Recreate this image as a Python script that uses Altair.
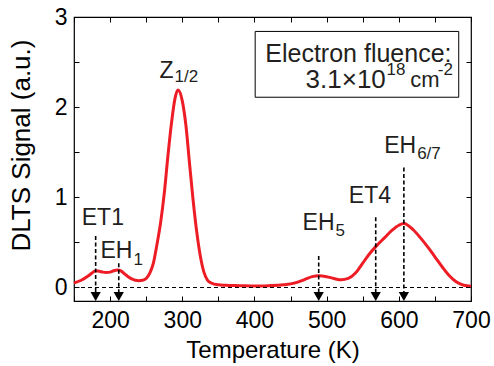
import altair as alt
import pandas as pd

FONT = "Liberation Sans"

# ---- DLTS spectrum ----
temps = [150, 160, 170, 175, 180, 185, 190, 195, 200, 205, 210, 215, 220, 225, 230,
         235, 240, 245, 250, 255, 260, 265, 270, 275, 280, 285, 290, 294, 300, 305,
         310, 315, 320, 325, 330, 335, 340, 350, 360, 380, 400, 420, 440, 450, 460,
         470, 480, 489, 500, 510, 520, 530, 540, 550, 560, 570, 580, 590, 600, 607,
         620, 630, 640, 650, 660, 670, 680, 690, 700]
signal = [0.05, 0.08, 0.13, 0.16, 0.185, 0.18, 0.17, 0.165, 0.17, 0.185, 0.195, 0.185, 0.15, 0.12, 0.095,
          0.08, 0.075, 0.08, 0.10, 0.16, 0.27, 0.48, 0.72, 1.04, 1.45, 1.82, 2.10, 2.19, 2.07, 1.80,
          1.38, 0.97, 0.62, 0.35, 0.17, 0.08, 0.05, 0.03, 0.025, 0.02, 0.015, 0.02, 0.03, 0.04, 0.06,
          0.09, 0.12, 0.13, 0.12, 0.10, 0.085, 0.10, 0.16, 0.27, 0.38, 0.47, 0.55, 0.63, 0.69, 0.71,
          0.64, 0.55, 0.45, 0.34, 0.23, 0.13, 0.06, 0.025, 0.015]

# ---- trap markers (dashed arrows) ----
marker_T = [180, 212, 489, 568, 607]
marker_top = [0.57, 0.27, 0.35, 0.78, 1.33]
arrow_bottom = -0.05
arrow_y = -0.10

# ---- peak labels ----
plain_text = ["ET1", "ET4"]
plain_T = [190, 560]
plain_y = [0.77, 1.02]

main_text = ["EH", "Z", "EH", "EH"]
main_T = [231, 288, 511, 624]
main_y = [0.40, 2.40, 0.71, 1.57]
sub_text = ["1", "1/2", "5", "6/7"]
sub_y = [0.305, 2.34, 0.63, 1.48]

# ---- fluence box ----
box_T = [401, 683]
box_y = [2.11, 2.84]
line1_text = "Electron fluence:"
line1_T, line1_y = 415, 2.59
line2_parts = ["3.1\u00d710", "18", "cm", "-2"]
line2_T = [582, 583, 616, 654]
line2_y = [2.30, 2.415, 2.30, 2.415]

x_scale = alt.Scale(domain=[150, 700], nice=False, zero=False)
y_scale = alt.Scale(domain=[-0.15, 3], nice=False, zero=False)

x_ticks = list(range(150, 701, 50))
y_ticks = [0, 0.5, 1, 1.5, 2, 2.5, 3]

axis_common = dict(tickSize=5, offset=-5, domain=False, grid=False, tickColor="black",
                   tickWidth=1, labelColor="black", titleColor="black",
                   labelFont=FONT, titleFont=FONT, titleFontWeight="normal",
                   labelOverlap=False, labelFlush=False)

x_bottom = alt.Axis(values=x_ticks, orient="bottom",
                    labelExpr="datum.value % 100 == 0 ? format(datum.value, 'd') : ''",
                    labelFontSize=23, titleFontSize=24, labelPadding=8, titlePadding=6,
                    title="Temperature (K)", **axis_common)
y_left = alt.Axis(values=y_ticks, orient="left",
                  labelExpr="datum.value % 1 == 0 ? format(datum.value, 'd') : ''",
                  labelFontSize=23, titleFontSize=26, labelPadding=7,
                  title="DLTS Signal (a.u.)", titleX=-45, titleY=128, **axis_common)
x_top = alt.Axis(values=x_ticks, orient="top", labels=False, title="", **axis_common)
y_right = alt.Axis(values=y_ticks, orient="right", labels=False, title="", **axis_common)


def X(field):
    return alt.X(field, type="quantitative", scale=x_scale, axis=None)


def Y(field):
    return alt.Y(field, type="quantitative", scale=y_scale, axis=None)


curve_df = pd.DataFrame({"T": temps, "S": signal})
curve = alt.Chart(curve_df).mark_line(color="#ee1c25", strokeWidth=3, interpolate="monotone").encode(
    x=alt.X("T:Q", scale=x_scale, axis=x_bottom),
    y=alt.Y("S:Q", scale=y_scale, axis=y_left),
)

zero_df = pd.DataFrame({"T": [150, 700], "S": [0, 0]})
zero_line = alt.Chart(zero_df).mark_line(color="black", strokeWidth=1.2, strokeDash=[4, 3]).encode(
    x=alt.X("T:Q", scale=x_scale, axis=x_top),
    y=alt.Y("S:Q", scale=y_scale, axis=y_right),
)

mk_df = pd.DataFrame({"T": marker_T, "top": marker_top,
                      "bot": [arrow_bottom] * len(marker_T), "ay": [arrow_y] * len(marker_T)})
vlines = alt.Chart(mk_df).mark_rule(color="black", strokeWidth=1.6, strokeDash=[4, 2.5]).encode(
    x=X("T"), y=Y("top"), y2="bot:Q")
arrows = alt.Chart(mk_df).mark_point(shape="triangle-down", filled=True, size=105,
                                     color="black", opacity=1).encode(x=X("T"), y=Y("ay"))

plain_df = pd.DataFrame({"T": plain_T, "y": plain_y, "t": plain_text})
plain_lbl = alt.Chart(plain_df).mark_text(font=FONT, fontSize=23, color="#231f20",
                                          align="center", baseline="middle").encode(
    x=X("T"), y=Y("y"), text="t:N")

main_df = pd.DataFrame({"T": main_T, "y": main_y, "t": main_text})
main_lbl = alt.Chart(main_df).mark_text(font=FONT, fontSize=23, color="#231f20",
                                        align="right", baseline="middle").encode(
    x=X("T"), y=Y("y"), text="t:N")
sub_df = pd.DataFrame({"T": main_T, "y": sub_y, "t": sub_text})
sub_lbl = alt.Chart(sub_df).mark_text(font=FONT, fontSize=17, color="#231f20",
                                      align="left", baseline="middle", dx=1).encode(
    x=X("T"), y=Y("y"), text="t:N")

box_df = pd.DataFrame({"x1": [box_T[0]], "x2": [box_T[1]], "y1": [box_y[0]], "y2": [box_y[1]]})
box = alt.Chart(box_df).mark_rect(fill="white", stroke="black", strokeWidth=1).encode(
    x=X("x1"), x2="x2:Q", y=Y("y1"), y2="y2:Q")

l1_df = pd.DataFrame({"T": [line1_T], "y": [line1_y], "t": [line1_text]})
l1 = alt.Chart(l1_df).mark_text(font=FONT, fontSize=25, color="#231f20",
                                align="left", baseline="middle").encode(x=X("T"), y=Y("y"), text="t:N")

l2a_df = pd.DataFrame({"T": [line2_T[0]], "y": [line2_y[0]], "t": [line2_parts[0]]})
l2a = alt.Chart(l2a_df).mark_text(font=FONT, fontSize=26, color="#231f20",
                                  align="right", baseline="middle").encode(x=X("T"), y=Y("y"), text="t:N")
l2c_df = pd.DataFrame({"T": [line2_T[2]], "y": [line2_y[2]], "t": [line2_parts[2]]})
l2c = alt.Chart(l2c_df).mark_text(font=FONT, fontSize=22, color="#231f20",
                                  align="left", baseline="middle").encode(x=X("T"), y=Y("y"), text="t:N")
sup_df = pd.DataFrame({"T": [line2_T[1], line2_T[3]], "y": [line2_y[1], line2_y[3]],
                       "t": [line2_parts[1], line2_parts[3]]})
sup = alt.Chart(sup_df).mark_text(font=FONT, fontSize=17, color="#231f20",
                                  align="left", baseline="middle").encode(x=X("T"), y=Y("y"), text="t:N")

chart = alt.layer(
    curve, zero_line, vlines, arrows, plain_lbl, main_lbl, sub_lbl, box, l1, l2a, l2c, sup
).resolve_axis(x="independent", y="independent").properties(
    width=397, height=284,
    autosize=alt.AutoSizeParams(type="none"),
    padding={"left": 74, "top": 17, "right": 23, "bottom": 65},
).configure_view(stroke="black", strokeWidth=1.2)

chart.save("out.html", embed_options={"renderer": "svg", "actions": False})
